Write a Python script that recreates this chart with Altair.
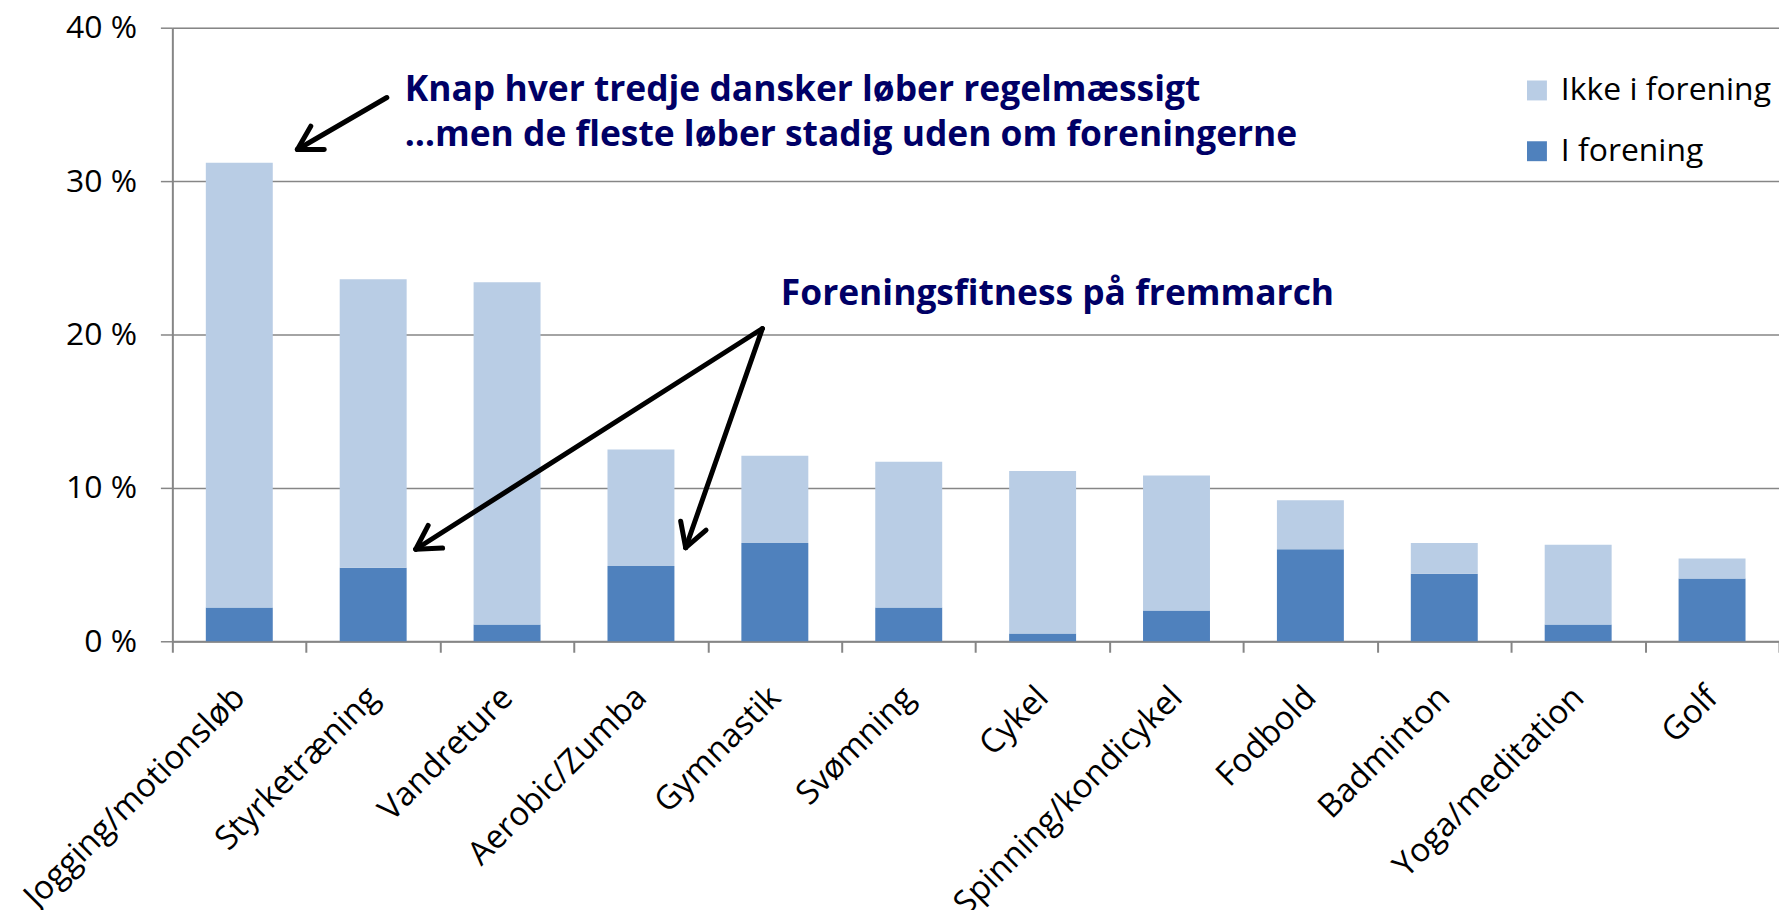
import altair as alt
import pandas as pd
import math

categories = ["Jogging/motionsløb", "Styrketræning", "Vandreture", "Aerobic/Zumba",
              "Gymnastik", "Svømning", "Cykel", "Spinning/kondicykel", "Fodbold",
              "Badminton", "Yoga/meditation", "Golf"]
i_forening = [2.2, 4.8, 1.1, 4.9, 6.4, 2.2, 0.5, 2.0, 6.0, 4.4, 1.1, 4.1]
ikke_i_forening = [29.0, 18.8, 22.3, 7.6, 5.7, 9.5, 10.6, 8.8, 3.2, 2.0, 5.2, 1.3]
series = ["Ikke i forening", "I forening"]
colors = ["#B9CDE5", "#4F81BD"]
y_ticks = [0, 10, 20, 30, 40]

# annotations (x in category-index units, y in percent)
notes = ["Knap hver tredje dansker løber regelmæssigt",
         "…men de fleste løber stadig uden om foreningerne",
         "Foreningsfitness på fremmarch"]
note_x = [1.736, 1.736, 4.545]
note_y = [35.19, 32.27, 21.95]

arrow_tail_x = [1.602, 4.407, 4.407]
arrow_tail_y = [35.45, 20.39, 20.39]
arrow_tip_x = [0.934, 1.818, 3.834]
arrow_tip_y = [32.06, 6.0, 6.1]

FONT = "Open Sans"
W, H = 1613, 616
N = len(categories)
SX = W / N      # px per category unit
SY = H / 40.0   # px per percent

rows = []
for c, a, b in zip(categories, i_forening, ikke_i_forening):
    rows.append({"cat": c, "serie": "I forening", "val": a, "ord": 0})
    rows.append({"cat": c, "serie": "Ikke i forening", "val": b, "ord": 1})
df = pd.DataFrame(rows)

seg = []
barb_len = 27.0
barb_ang = math.radians(30)
for k in range(len(arrow_tip_x)):
    tx, ty = arrow_tail_x[k], arrow_tail_y[k]
    hx, hy = arrow_tip_x[k], arrow_tip_y[k]
    seg.append({"id": f"s{k}", "o": 0, "x": tx, "y": ty})
    seg.append({"id": f"s{k}", "o": 1, "x": hx, "y": hy})
    dx, dy = (tx - hx) * SX, (ty - hy) * SY
    d = math.hypot(dx, dy)
    ux, uy = dx / d, dy / d
    for s, sgn in (("a", 1), ("b", -1)):
        ca, sa = math.cos(sgn * barb_ang), math.sin(sgn * barb_ang)
        rx, ry = ux * ca - uy * sa, ux * sa + uy * ca
        seg.append({"id": f"b{k}{s}", "o": 0, "x": hx, "y": hy})
        seg.append({"id": f"b{k}{s}", "o": 1, "x": hx + rx * barb_len / SX, "y": hy + ry * barb_len / SY})
seg_df = pd.DataFrame(seg)
note_df = pd.DataFrame({"t": notes, "x": note_x, "y": note_y})

grey = "#868686"

y_axis = alt.Axis(values=y_ticks, labelExpr="datum.value + ' %'",
                  title=None, tickSize=12, labelPadding=24, labelFontSize=32,
                  labelFont=FONT, labelColor="black",
                  grid=True, gridColor=grey, gridWidth=1.5,
                  domainColor=grey, domainWidth=2, tickColor=grey, tickWidth=1.5)
y_scale = alt.Scale(domain=[0, 40], nice=False)

bars = alt.Chart(df).mark_bar(width=alt.RelativeBandSize(0.5)).encode(
    x=alt.X("cat:N", sort=categories,
            scale=alt.Scale(paddingInner=0, paddingOuter=0),
            axis=alt.Axis(title=None, labelAngle=-45, labelAlign="right", labelBaseline="middle",
                          labelFontSize=33, labelColor="black", labelFont=FONT,
                          tickBand="extent", tickSize=11, tickColor=grey, tickWidth=2,
                          domainColor=grey, domainWidth=2, labelPadding=40, grid=False,
                          labelLimit=0)),
    y=alt.Y("val:Q", stack=True, scale=y_scale, axis=y_axis),
    color=alt.Color("serie:N", scale=alt.Scale(domain=series, range=colors),
                    legend=alt.Legend(title=None, orient="none", legendX=1354, legendY=47,
                                      symbolType="square", symbolSize=400, symbolStrokeWidth=0,
                                      labelFontSize=32, labelFont=FONT, labelColor="black",
                                      labelOffset=8, rowPadding=29, padding=0, labelLimit=0)),
    order=alt.Order("ord:Q"),
)

xq = alt.X("x:Q", scale=alt.Scale(domain=[0, N], nice=False, zero=False), axis=None)
yq = alt.Y("y:Q", scale=y_scale, axis=y_axis)

arrows = alt.Chart(seg_df).mark_line(color="black", strokeWidth=5, strokeCap="round").encode(
    x=xq, y=yq, detail="id:N", order="o:Q")

texts = alt.Chart(note_df).mark_text(align="left", baseline="alphabetic", font=FONT,
                                     fontWeight="bold", fontSize=35.5, color="#000066").encode(
    x=xq, y=yq, text="t:N")

chart = alt.layer(bars, arrows, texts).resolve_scale(x="independent").properties(
    width=W, height=H,
    autosize=alt.AutoSizeParams(type="none"),
    padding={"left": 165, "top": 18, "right": 0, "bottom": 268},
).configure_view(stroke=None).configure(font=FONT)

chart.save("out.html", embed_options={"renderer": "svg", "actions": False})
